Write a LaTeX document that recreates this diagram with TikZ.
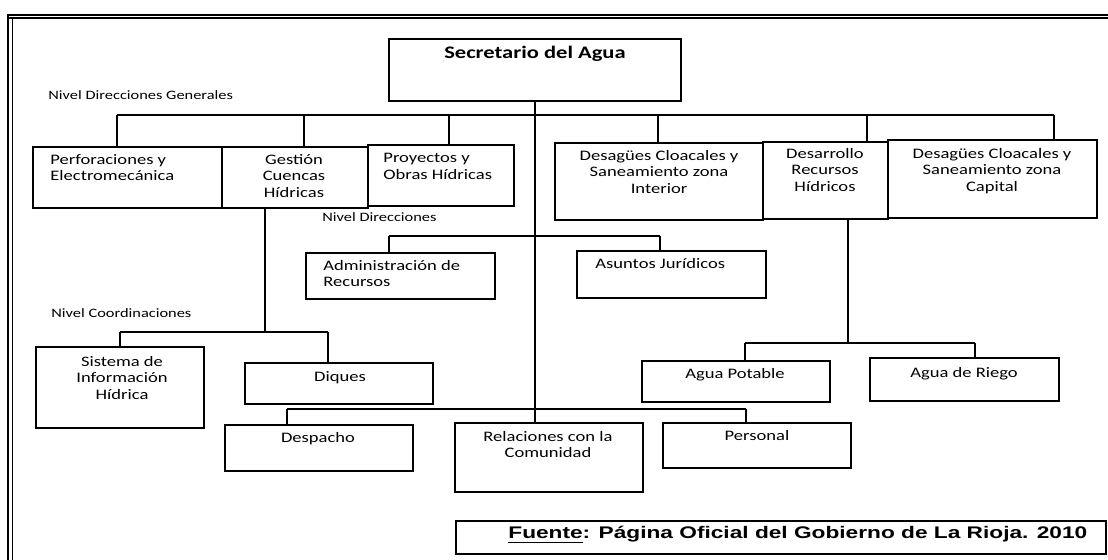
\documentclass[tikz,border=0pt]{standalone}
\usepackage{fontspec}
\setmainfont{Carlito}[FakeStretch=1.28]
\newfontfamily\fuentefont{Liberation Sans}[FakeStretch=1.35]
\usetikzlibrary{fit}
\tikzset{
  box/.style={draw, line width=0.8pt, inner sep=0pt},
  conn/.style={draw, line width=0.8pt},
  txt/.style={inner sep=0pt, anchor=north, align=center, font=\fontsize{7.25}{8.25}\selectfont},
  txtl/.style={inner sep=0pt, anchor=north west, align=left, font=\fontsize{7.25}{8.25}\selectfont},
  bigtxt/.style={inner sep=0pt, anchor=north, font=\fontsize{8.8}{10}\selectfont\bfseries},
  lvl/.style={inner sep=0pt, anchor=west, font=\fontsize{6.4}{7.5}\selectfont},
  frame/.style={line width=0.7pt}
}
\begin{document}
\begin{tikzpicture}[x=0.5pt, y=-0.5pt]
\useasboundingbox (0,0) rectangle (1108,560);
% frame
\draw[frame] (7,15) -- (1108,15);
\draw[frame] (7,18) -- (1108,18);
\draw[frame] (8,15) -- (8,560);
\draw[frame] (12.5,18) -- (12.5,560);

% boxes
\node[box, fit={(389,39) (681,101)}] (sec) {};
\node[box, fit={(33,147) (222,208)}] (perf) {};
\node[box, fit={(222,147) (368,208)}] (gest) {};
\node[box, fit={(368,145) (514,206)}] (proy) {};
\node[box, fit={(555,143) (763,220)}] (dint) {};
\node[box, fit={(763,142) (888,219)}] (desa) {};
\node[box, fit={(888,140) (1097,218)}] (dcap) {};
\node[box, fit={(306,253) (495,299)}] (admin) {};
\node[box, fit={(577,251) (766,298)}] (asun) {};
\node[box, fit={(36,347) (204,428)}] (sis) {};
\node[box, fit={(245,363) (433,404)}] (diq) {};
\node[box, fit={(642,361) (830,402)}] (pot) {};
\node[box, fit={(870,358) (1059,401)}] (rie) {};
\node[box, fit={(225,425) (413,471)}] (desp) {};
\node[box, fit={(455,423) (643,492)}] (rel) {};
\node[box, fit={(663,423) (851,468)}] (pers) {};
\node[box, fit={(456,521) (1106,554)}] (fuente) {};

% texts
\node[bigtxt] (sec-t) at (535,46) {Secretario del Agua};
\node[txtl] (perf-t) at (50,154) {Perforaciones y\\Electromecánica};
\node[txt] (gest-t) at (294,154) {Gestión\\Cuencas\\Hídricas};
\node[txtl] (proy-t) at (383,153) {Proyectos y\\Obras Hídricas};
\node[txt] (dint-t) at (659,150) {Desagües Cloacales y\\Saneamiento zona\\Interior};
\node[txt] (desa-t) at (825,148) {Desarrollo\\Recursos\\Hídricos};
\node[txt] (dcap-t) at (992,148) {Desagües Cloacales y\\Saneamiento zona\\Capital};
\node[txtl] (admin-t) at (323,260) {Administración de\\Recursos};
\node[txtl] (asun-t) at (595,258) {Asuntos Jurídicos};
\node[txt] (sis-t) at (122,356) {Sistema de\\Información\\Hídrica};
\node[txt] (diq-t) at (340,371) {Diques};
\node[txt] (pot-t) at (735,368) {Agua Potable};
\node[txt] (rie-t) at (964,367) {Agua de Riego};
\node[txt] (desp-t) at (318,432) {Despacho};
\node[txt] (rel-t) at (548,431) {Relaciones con la\\Comunidad};
\node[txt] (pers-t) at (757,430) {Personal};
\node[inner sep=0pt, anchor=base west, font=\fuentefont\fontsize{8.4}{10}\selectfont\bfseries] (fuente-t) at (508,539) {\underline{Fuente}: Página Oficial del Gobierno de La Rioja. 2010};

% level labels
\node[lvl] (lv1) at (48,95) {Nivel Direcciones Generales};
\node[lvl] (lv2) at (322,217) {Nivel Direcciones};
\node[lvl] (lv3) at (51,313) {Nivel Coordinaciones};

% main vertical
\draw[conn] (sec.south) -- (sec.south |- rel.north);

% top bus
\coordinate (t1) at (117,115);
\coordinate (t2) at (304,115);
\coordinate (t3) at (449,115);
\coordinate (t4) at (658,115);
\coordinate (t5) at (867,115);
\coordinate (t6) at (1054,115);
\draw[conn] (t1) -- (t6);
\draw[conn] (t1) -- (t1 |- perf.north);
\draw[conn] (t2) -- (t2 |- gest.north);
\draw[conn] (t3) -- (t3 |- proy.north);
\draw[conn] (t4) -- (t4 |- dint.north);
\draw[conn] (t5) -- (t5 |- desa.north);
\draw[conn] (t6) -- (t6 |- dcap.north);

% Nivel Direcciones bus
\coordinate (d1) at (389,236);
\coordinate (d2) at (660,236);
\draw[conn] (d1) -- (d2);
\draw[conn] (d1) -- (d1 |- admin.north);
\draw[conn] (d2) -- (d2 |- asun.north);

% Gestion -> coordinaciones
\coordinate (g0) at (265,332);
\coordinate (g1) at (120,332);
\coordinate (g2) at (328,332);
\draw[conn] (g0 |- gest.south) -- (g0);
\draw[conn] (g1) -- (g2);
\draw[conn] (g1) -- (g1 |- sis.north);
\draw[conn] (g2) -- (g2 |- diq.north);

% Desarrollo -> agua
\coordinate (r0) at (848,343);
\coordinate (r1) at (745,343);
\coordinate (r2) at (975,343);
\draw[conn] (r0 |- desa.south) -- (r0);
\draw[conn] (r1) -- (r2);
\draw[conn] (r1) -- (r1 |- pot.north);
\draw[conn] (r2) -- (r2 |- rie.north);

% bottom bus
\coordinate (b1) at (287,409);
\coordinate (b2) at (746,409);
\draw[conn] (b1) -- (b2);
\draw[conn] (b1) -- (b1 |- desp.north);
\draw[conn] (b2) -- (b2 |- pers.north);
\end{tikzpicture}
\end{document}
